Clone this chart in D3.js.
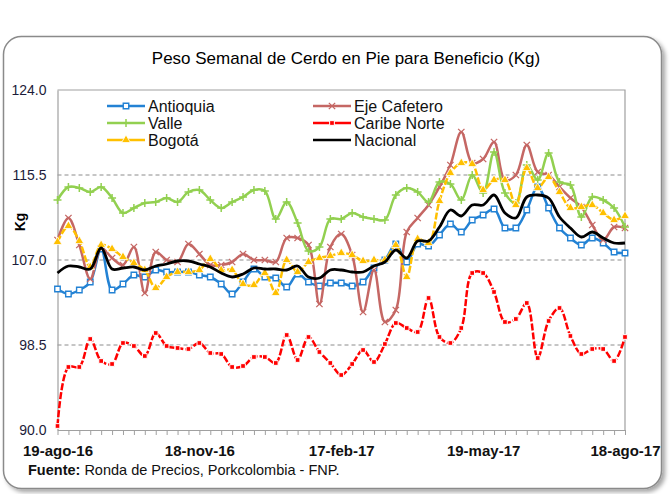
<!DOCTYPE html>
<html>
<head>
<meta charset="utf-8">
<script src="https://cdn.jsdelivr.net/npm/d3@7"></script>
<style>
  body { margin: 0; background: #fff; }
  text { font-family: "Liberation Sans", Arial, sans-serif; }
</style>
</head>
<body>
<div id="chart"></div>
<script>
// semanas: del 19-ago-16 al 18-ago-17 (53 registros semanales)
var fechaInicio = "2016-08-19";
var fechaFin = "2017-08-18";
var fechasEtiquetas = ["2016-08-19", "2016-11-18", "2017-02-17", "2017-05-19", "2017-08-18"];
var etiquetasX = ["19-ago-16", "18-nov-16", "17-feb-17", "19-may-17", "18-ago-17"];
var ticksY = [90, 98.5, 107, 115.5, 124];
var gridY = [98.5, 107, 115.5];

var antioquia = [104.1, 103.6, 104.0, 104.8, 108.1, 104.0, 104.6, 105.5, 105.3, 106.0, 105.8, 105.8, 105.8,
  105.5, 105.3, 104.6, 103.6, 104.8, 106.1, 105.3, 105.2, 104.3, 105.6, 104.8, 104.4, 104.7, 104.7,
  104.4, 104.8, 106.2, 107.0, 108.6, 106.8, 108.6, 108.4, 109.5, 110.6, 109.8, 111.0, 111.5, 112.1,
  110.2, 110.2, 112.0, 114.3, 112.2, 110.2, 109.2, 108.5, 109.2, 108.7, 107.8, 107.7];
var ejeCafetero = [109.0, 111.2, 108.5, 105.1, 108.2, 107.2, 106.5, 108.3, 103.7, 107.8, 107.0, 106.8, 108.6,
  107.6, 106.5, 106.5, 106.8, 107.6, 107.0, 107.0, 106.8, 109.2, 109.2, 108.5, 102.6, 108.3, 109.6,
  107.5, 101.8, 106.0, 100.8, 102.0, 109.8, 111.2, 112.5, 114.3, 116.5, 119.8, 116.7, 117.1, 118.8,
  115.0, 115.5, 118.5, 115.8, 115.5, 114.3, 113.2, 112.3, 110.5, 109.0, 110.3, 110.2];
var valle = [113.0, 114.3, 114.2, 113.8, 114.3, 113.2, 111.7, 112.2, 112.7, 112.8, 113.2, 112.8, 113.8,
  114.0, 113.0, 112.2, 112.8, 113.3, 114.0, 113.9, 111.1, 112.8, 110.7, 107.9, 108.3, 111.1, 111.1,
  111.7, 111.3, 111.1, 111.0, 113.5, 114.2, 113.8, 112.8, 114.8, 114.6, 113.0, 115.5, 113.7, 117.8,
  113.7, 112.7, 116.5, 115.0, 117.7, 114.8, 114.5, 111.3, 113.3, 113.0, 112.2, 110.3];
var caribeNorte = [90.4, 96.3, 96.3, 99.1, 96.9, 96.6, 98.7, 98.4, 97.4, 99.7, 98.4, 98.2, 98.1,
  98.7, 97.7, 97.6, 96.3, 96.4, 97.3, 97.3, 96.7, 99.5, 97.0, 99.3, 97.8, 96.7, 95.5,
  96.6, 98.0, 96.8, 98.6, 100.7, 100.2, 99.8, 103.2, 99.3, 98.7, 100.2, 105.7, 105.7, 103.8,
  100.8, 101.1, 102.7, 97.2, 100.9, 102.2, 99.4, 97.6, 98.1, 98.1, 96.9, 99.3];
var bogota = [108.8, 110.4, 108.9, 106.3, 108.5, 108.1, 107.3, 106.7, 106.0, 104.2, 105.3, 105.8, 105.8,
  106.0, 107.1, 106.0, 106.0, 104.6, 104.5, 105.7, 103.7, 107.0, 105.8, 106.8, 107.2, 107.4, 107.7,
  107.5, 106.9, 107.0, 107.0, 108.5, 105.3, 109.1, 108.7, 112.9, 115.7, 116.7, 116.6, 114.0, 115.0,
  115.0, 112.5, 116.2, 114.2, 115.3, 113.8, 112.2, 112.3, 112.5, 111.7, 111.0, 111.4];
var nacional = [105.7, 106.4, 106.3, 106.1, 108.2, 106.1, 106.2, 106.3, 106.0, 106.4, 106.6, 106.9, 106.9,
  106.6, 106.3, 105.7, 105.3, 105.6, 106.2, 106.1, 106.1, 106.0, 106.4, 105.3, 105.2, 106.0, 106.0,
  105.8, 105.8, 106.4, 106.8, 108.0, 107.2, 108.9, 108.9, 110.3, 112.0, 111.4, 112.5, 112.5, 113.5,
  111.7, 111.2, 113.3, 113.5, 113.2, 111.3, 110.2, 109.3, 109.8, 109.2, 108.7, 108.7];

var W = 670, H = 494;
var plotL = 57.5, plotR = 625, plotT = 90, plotB = 430;

var parse = d3.utcParse("%Y-%m-%d");
var semanas = d3.utcDay.range(parse(fechaInicio), d3.utcDay.offset(parse(fechaFin), 1), 7);

var x = d3.scaleUtc().domain([parse(fechaInicio), parse(fechaFin)]).range([plotL, plotR]);
var y = d3.scaleLinear().domain([90, 124]).range([plotB, plotT]);

// marcadores de trazo
var simboloX = { draw: function (c, s) { var r = Math.sqrt(s) / 2;
  c.moveTo(-r, -r); c.lineTo(r, r); c.moveTo(r, -r); c.lineTo(-r, r); } };
var simboloMas = { draw: function (c, s) { var r = Math.sqrt(s) / 2;
  c.moveTo(-r, 0); c.lineTo(r, 0); c.moveTo(0, -r); c.lineTo(0, r); } };

var series = [
  { nombre: "Antioquia", datos: antioquia, color: "#2382d4", tipo: d3.symbolSquare, size: 30, fill: "#fff", stroke: "#2382d4", sw: 1.4 },
  { nombre: "Eje Cafetero", datos: ejeCafetero, color: "#c56764", tipo: simboloX, size: 40, fill: "none", stroke: "#c56764", sw: 1.3 },
  { nombre: "Valle", datos: valle, color: "#92d050", tipo: simboloMas, size: 64, fill: "none", stroke: "#92d050", sw: 1.5 },
  { nombre: "Caribe Norte", datos: caribeNorte, color: "#ff0000", tipo: d3.symbolSquare, size: 22, fill: "#ff0000", stroke: "#fff", sw: 1, dash: "7,2" },
  { nombre: "Bogotá", datos: bogota, color: "#ffc000", tipo: d3.symbolTriangle, size: 34, fill: "#ffc000", stroke: "#fff", sw: 0.8, dash: "7,2" },
  { nombre: "Nacional", datos: nacional, color: "#000000", tipo: null }
];

var svg = d3.select("#chart").append("svg")
  .attr("width", W).attr("height", H);

var defs = svg.append("defs");
var f = defs.append("filter").attr("id", "sombra").attr("x", "-5%").attr("y", "-5%")
  .attr("width", "115%").attr("height", "115%");
f.append("feDropShadow").attr("dx", 3).attr("dy", 3).attr("stdDeviation", 2)
  .attr("flood-color", "#000").attr("flood-opacity", 0.35);

// marco redondeado
svg.append("rect")
  .attr("x", 3.5).attr("y", 36.5).attr("width", 658).attr("height", 452)
  .attr("rx", 18).attr("ry", 18)
  .attr("fill", "#fff").attr("stroke", "#8a8a8a").attr("stroke-width", 1.5)
  .attr("filter", "url(#sombra)");

// titulo
svg.append("text")
  .attr("x", 346).attr("y", 64)
  .attr("text-anchor", "middle")
  .attr("font-size", 17).attr("fill", "#000")
  .text("Peso Semanal de Cerdo en Pie para Beneficio (Kg)");

// lineas de cuadricula
svg.append("g").selectAll("line").data(gridY).enter().append("line")
  .attr("x1", plotL).attr("x2", plotR)
  .attr("y1", function (d) { return y(d); }).attr("y2", function (d) { return y(d); })
  .attr("stroke", "#8c8c8c").attr("stroke-width", 1).attr("stroke-dasharray", "4,3");

// borde del area de trazado
svg.append("path")
  .attr("d", "M" + plotL + "," + plotT + "H" + plotR + "V" + plotB)
  .attr("fill", "none").attr("stroke", "#a0a0a0").attr("stroke-width", 1.2);

// eje Y
var ejeY = svg.append("g").attr("transform", "translate(" + plotL + ",0)")
  .call(d3.axisLeft(y).tickValues(ticksY).tickSize(0).tickPadding(11).tickFormat(d3.format(".1f")));
ejeY.select(".domain").attr("stroke", "#a0a0a0").attr("stroke-width", 1.2);
ejeY.selectAll("text").attr("font-size", 14).attr("fill", "#1c1c3a")
  .style("font-family", "'Liberation Sans', Arial, sans-serif");

svg.append("text")
  .attr("transform", "translate(25,222) rotate(-90)")
  .attr("text-anchor", "middle").attr("font-size", 14).attr("font-weight", "bold")
  .text("Kg");

// eje X: marcas semanales
var ejeX = svg.append("g").attr("transform", "translate(0," + plotB + ")")
  .call(d3.axisBottom(x).tickValues(semanas).tickSize(5).tickSizeOuter(0).tickFormat(""));
ejeX.select(".domain").attr("stroke", "#a0a0a0").attr("stroke-width", 1.2);
ejeX.selectAll(".tick line").attr("stroke", "#a0a0a0");

var etiquetas = svg.append("g").attr("transform", "translate(0," + plotB + ")")
  .call(d3.axisBottom(x).tickValues(fechasEtiquetas.map(parse)).tickSize(0).tickPadding(15)
    .tickFormat(function (d, i) { return etiquetasX[i]; }));
etiquetas.select(".domain").remove();
etiquetas.selectAll("text").attr("font-size", 15).attr("font-weight", "bold").attr("fill", "#111")
  .style("font-family", "'Liberation Sans', Arial, sans-serif");

// series
var linea = function (datos) {
  return d3.line()
    .x(function (d, i) { return x(semanas[i]); })
    .y(function (d) { return y(d); })
    .curve(d3.curveCatmullRom.alpha(0.5))(datos);
};

series.forEach(function (s) {
  var g = svg.append("g");
  g.append("path")
    .attr("d", linea(s.datos))
    .attr("fill", "none")
    .attr("stroke", s.color)
    .attr("stroke-width", s.nombre === "Nacional" ? 2.8 : 2.5)
    .attr("stroke-dasharray", s.dash || null)
    .attr("stroke-linejoin", "round");
  if (s.tipo) {
    g.selectAll("path.m").data(s.datos).enter().append("path")
      .attr("class", "m")
      .attr("transform", function (d, i) { return "translate(" + x(semanas[i]) + "," + y(d) + ")"; })
      .attr("d", d3.symbol().type(s.tipo).size(s.size))
      .attr("fill", s.fill).attr("stroke", s.stroke).attr("stroke-width", s.sw);
  }
});

// leyenda
var leyenda = svg.append("g");
series.forEach(function (s, i) {
  var lx = i % 2 === 0 ? 107 : 313;
  var ly = 106 + Math.floor(i / 2) * 17;
  var it = leyenda.append("g").attr("transform", "translate(" + lx + "," + ly + ")");
  it.append("line").attr("x1", 0).attr("x2", 38).attr("y1", 0).attr("y2", 0)
    .attr("stroke", s.color).attr("stroke-width", 2.5);
  if (s.tipo) {
    it.append("path").attr("transform", "translate(19,0)")
      .attr("d", d3.symbol().type(s.tipo).size(s.size))
      .attr("fill", s.fill).attr("stroke", s.stroke).attr("stroke-width", s.sw);
  }
  it.append("text").attr("x", 41).attr("y", 5.5)
    .attr("font-size", 16).attr("fill", "#111").text(s.nombre);
});

// fuente
var fuente = svg.append("text").attr("x", 28).attr("y", 475).attr("font-size", 14.5).attr("fill", "#111");
fuente.append("tspan").attr("font-weight", "bold").text("Fuente:");
fuente.append("tspan").text(" Ronda de Precios, Porkcolombia  - FNP.");
</script>
</body>
</html>
